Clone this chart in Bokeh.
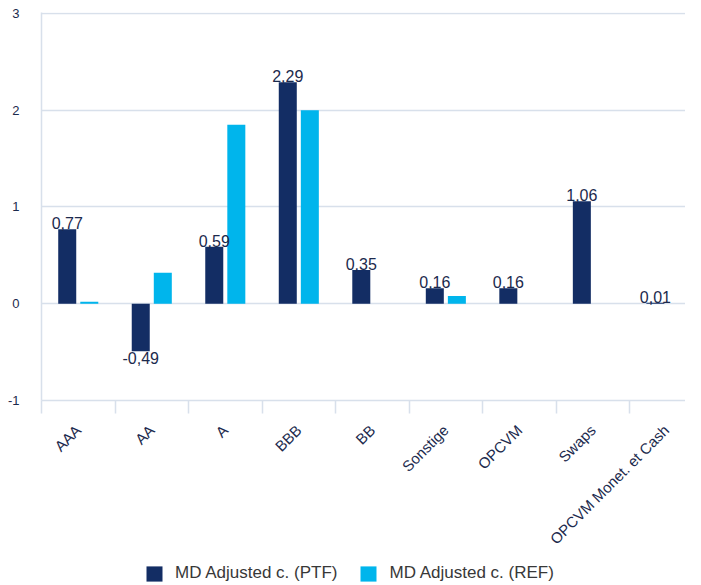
from bokeh.plotting import figure
from bokeh.layouts import column
from bokeh.models import ColumnDataSource, FixedTicker, Range1d, Legend, LegendItem
from bokeh.transform import dodge
from bokeh.core.properties import value
from bokeh.embed import file_html
from bokeh.resources import INLINE
from math import pi

categories = ["AAA", "AA", "A", "BBB", "BB", "Sonstige", "OPCVM", "Swaps", "OPCVM Monet. et Cash"]
ptf = [0.77, -0.49, 0.59, 2.29, 0.35, 0.16, 0.16, 1.06, 0.01]
ref = [0.02, 0.32, 1.85, 2.00, 0.0, 0.08, 0.0, 0.0, 0.0]
y_ticks = [-1, 0, 1, 2, 3]
series_names = ["MD Adjusted c. (PTF)", "MD Adjusted c. (REF)"]

NAVY = "#132d64"
CYAN = "#00b5ec"
TEXT = "#1c2a4d"
GRID = "#d8e0eb"
FONT = "Liberation Sans"
OFF = 0.15
BW = 0.245

idx = list(range(len(categories)))
fmt = lambda v: f"{v:.2f}".replace(".", ",")
src = ColumnDataSource(dict(x=idx, ptf=ptf, ref=ref))
pos_src = ColumnDataSource(dict(x=[i for i, v in zip(idx, ptf) if v >= 0],
                                y=[v for v in ptf if v >= 0],
                                lbl=[fmt(v) for v in ptf if v >= 0]))
neg_src = ColumnDataSource(dict(x=[i for i, v in zip(idx, ptf) if v < 0],
                                y=[v for v in ptf if v < 0],
                                lbl=[fmt(v) for v in ptf if v < 0]))

p = figure(width=685, height=556, output_backend="svg", toolbar_location=None,
           x_range=Range1d(-0.5, len(categories) - 0.74), y_range=Range1d(-1, 3.01),
           min_border_left=41, min_border_top=12, min_border_right=0, min_border_bottom=153)
p.outline_line_color = None
p.xgrid.grid_line_color = None
p.ygrid.grid_line_color = GRID
p.ygrid.grid_line_width = 1.5

r1 = p.vbar(x=dodge("x", -OFF, range=p.x_range), top="ptf", width=BW, source=src,
            fill_color=NAVY, line_color=None)
r2 = p.vbar(x=dodge("x", OFF, range=p.x_range), top="ref", width=BW, source=src,
            fill_color=CYAN, line_color=None)

p.text(x=dodge("x", -OFF, range=p.x_range), y="y", text="lbl", source=pos_src,
       text_align="center", text_baseline="bottom", y_offset=0,
       text_font=value(FONT), text_font_size="16px", text_color=TEXT)
p.text(x=dodge("x", -OFF, range=p.x_range), y="y", text="lbl", source=neg_src,
       text_align="center", text_baseline="top", y_offset=1,
       text_font=value(FONT), text_font_size="16px", text_color=TEXT)

# y axis
p.yaxis.ticker = FixedTicker(ticks=y_ticks)
p.yaxis.major_label_overrides = {t: str(t) for t in y_ticks}
p.yaxis.axis_line_color = GRID
p.yaxis.axis_line_width = 1.5
p.yaxis.major_tick_line_color = None
p.yaxis.major_tick_out = 0
p.yaxis.minor_tick_line_color = None
p.yaxis.major_label_standoff = 22
p.yaxis.major_label_text_font = FONT
p.yaxis.major_label_text_font_size = "13px"
p.yaxis.major_label_text_color = TEXT

# x axis
p.xaxis.ticker = FixedTicker(ticks=idx, minor_ticks=[i - 0.5 for i in range(len(categories) + 1)])
p.xaxis.major_label_overrides = {i: c for i, c in zip(idx, categories)}
p.xaxis.major_label_orientation = pi / 4
p.xaxis.axis_line_color = GRID
p.xaxis.axis_line_width = 1.5
p.xaxis.major_tick_line_color = None
p.xaxis.major_tick_out = 0
p.xaxis.minor_tick_line_color = GRID
p.xaxis.minor_tick_line_width = 1.5
p.xaxis.minor_tick_out = 13
p.xaxis.minor_tick_in = 0
p.xaxis.major_label_standoff = 14
p.xaxis.major_label_text_font = FONT
p.xaxis.major_label_text_font_size = "15px"
p.xaxis.major_label_text_color = TEXT

# legend strip (its glyph renderers lie outside the visible ranges)
lg = figure(width=685, height=29, output_backend="svg", toolbar_location=None,
            x_range=Range1d(100, 101), y_range=Range1d(100, 101),
            x_axis_location=None, y_axis_location=None,
            min_border_left=41, min_border_right=0, min_border_top=0, min_border_bottom=0)
lg.outline_line_color = None
lg.grid.grid_line_color = None
g1 = lg.vbar(x="x", top="ptf", width=BW, source=src, fill_color=NAVY, line_color=None)
g2 = lg.vbar(x="x", top="ref", width=BW, source=src, fill_color=CYAN, line_color=None)
legend = Legend(items=[LegendItem(label=series_names[0], renderers=[g1]),
                       LegendItem(label=series_names[1], renderers=[g2])],
                orientation="horizontal", location=(103, 2),
                border_line_alpha=0, background_fill_alpha=0,
                glyph_width=20, glyph_height=19, label_standoff=11, spacing=21,
                label_text_font=FONT, label_text_font_size="17px", label_text_color="#383838",
                padding=0, margin=0)
lg.add_layout(legend, "center")

layout = column(p, lg, spacing=0)
open("out.html", "w").write(file_html(layout, INLINE))
